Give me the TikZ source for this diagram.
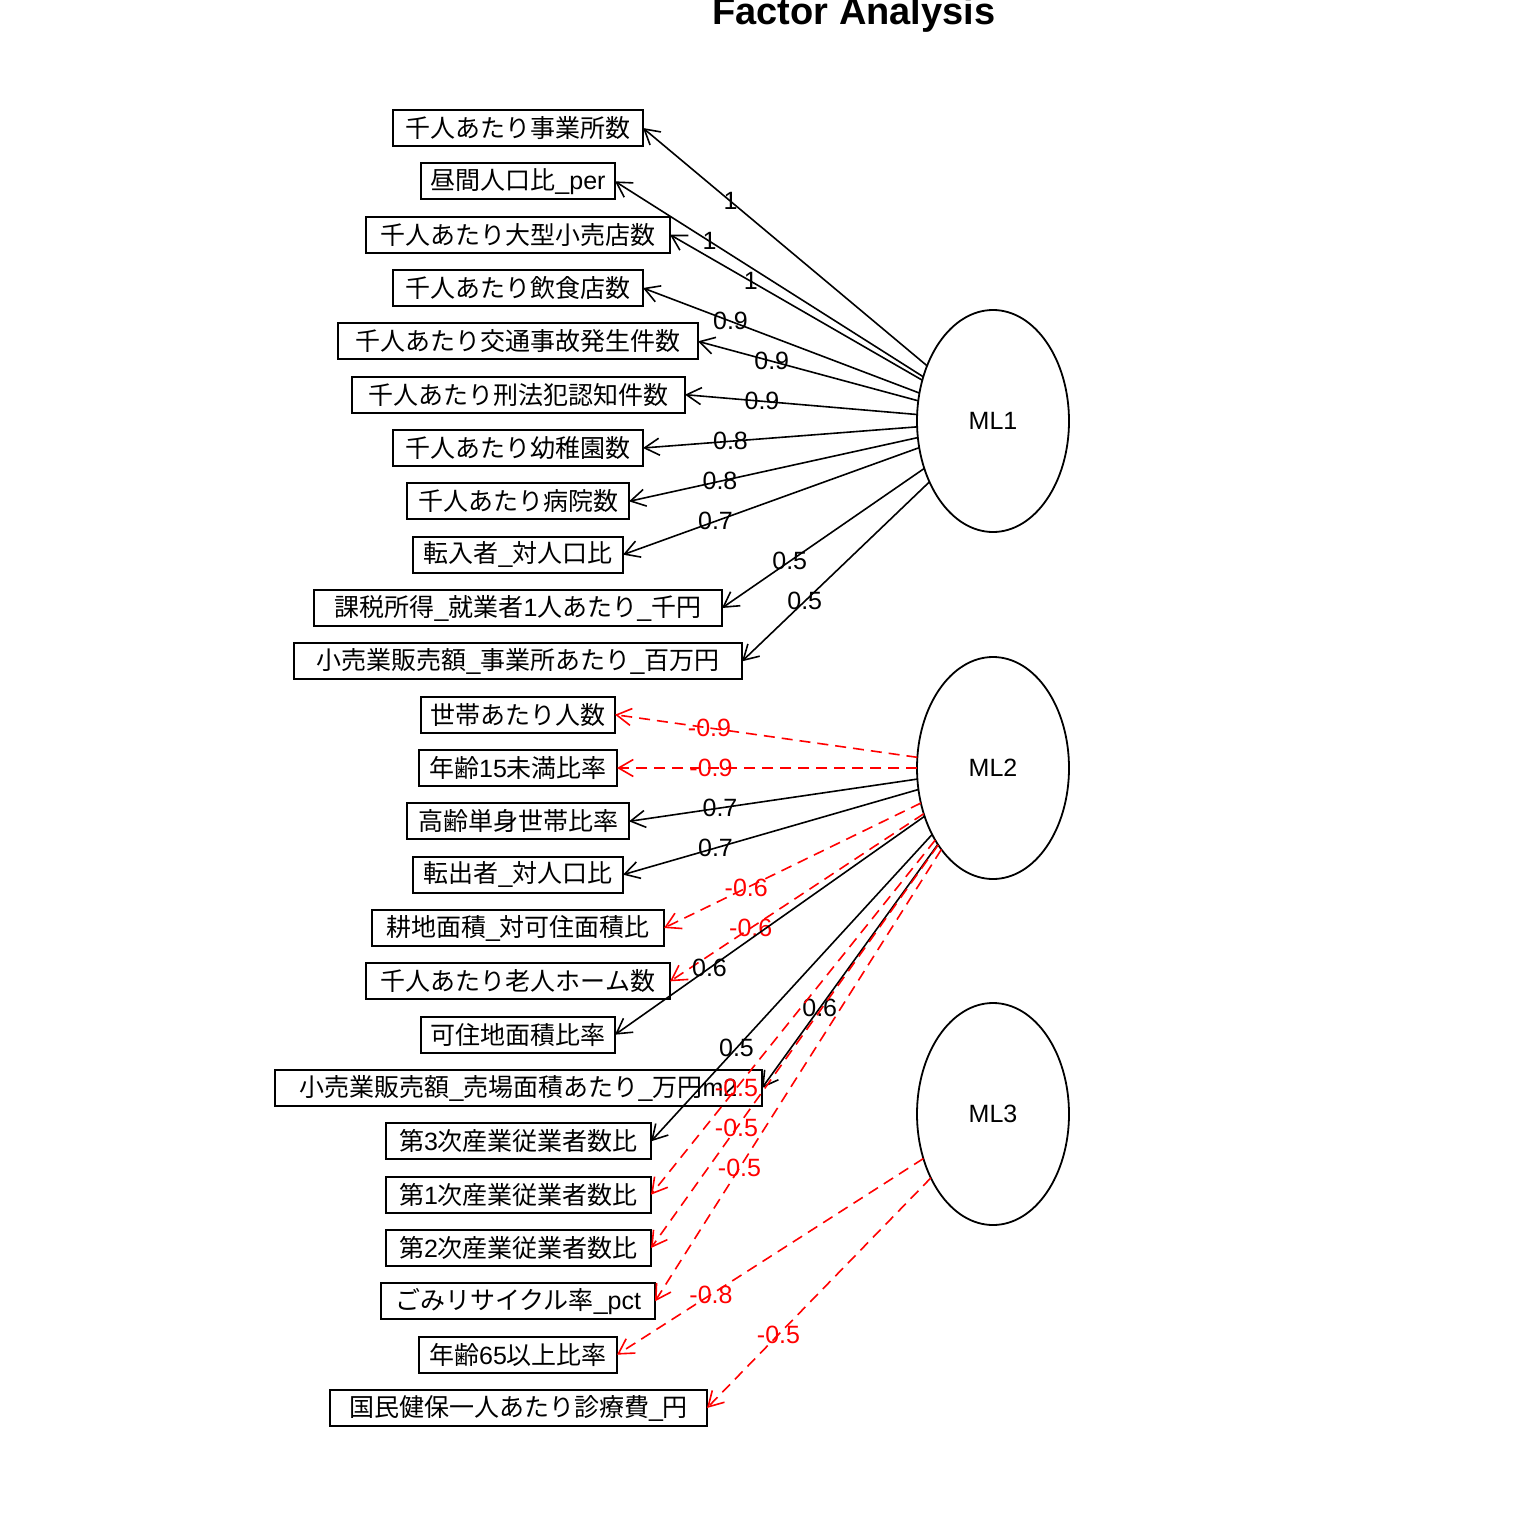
\documentclass[tikz,border=0pt]{standalone}
\usepackage{fontspec}
\setmainfont{Liberation Sans}
\newfontfamily\cjk{Noto Sans CJK JP}
\usetikzlibrary{shapes.geometric,arrows.meta,calc}
\begin{document}
\begin{tikzpicture}[x=0.5pt,y=-0.5pt,
  every node/.style={font=\fontsize{12.5}{15}\selectfont},
  varbox/.style={draw,line width=0.9pt,minimum height=18pt,inner xsep=2pt,inner ysep=0pt,outer sep=0pt},
  factor/.style={draw,ellipse,line width=0.9pt,minimum width=76pt,minimum height=111pt,inner sep=0pt,outer sep=0pt},
  posedge/.style={draw=black,line width=0.8pt,-{Straight Barb[angle=60:8.5pt]}},
  negedge/.style={draw=red,line width=0.8pt,dash pattern=on 5.5pt off 3.5pt,-{Straight Barb[angle=60:8.5pt]}},
  poslbl/.style={text=black,inner sep=0pt},
  neglbl/.style={text=red,inner sep=0pt}]
\useasboundingbox (0,0) rectangle (1536,1536);
\node[anchor=base,font=\bfseries\fontsize{19}{22}\selectfont] (title) at (854,25) {Factor Analysis};
% factors
\node[factor] (ML1) at (993,421) {ML1};
\node[factor] (ML2) at (993,768) {ML2};
\node[factor] (ML3) at (993,1114) {ML3};
% variables
\node[varbox,minimum width=125pt] (b1) at (518,128) {{\cjk 千人あたり事業所数}};
\node[varbox,minimum width=97pt] (b2) at (518,181.33) {{\cjk 昼間人口比}\_per};
\node[varbox,minimum width=152pt] (b3) at (518,234.67) {{\cjk 千人あたり大型小売店数}};
\node[varbox,minimum width=125pt] (b4) at (518,288) {{\cjk 千人あたり飲食店数}};
\node[varbox,minimum width=180pt] (b5) at (518,341.33) {{\cjk 千人あたり交通事故発生件数}};
\node[varbox,minimum width=166.5pt] (b6) at (518.5,394.67) {{\cjk 千人あたり刑法犯認知件数}};
\node[varbox,minimum width=125pt] (b7) at (518,448) {{\cjk 千人あたり幼稚園数}};
\node[varbox,minimum width=111pt] (b8) at (518,501.33) {{\cjk 千人あたり病院数}};
\node[varbox,minimum width=105pt] (b9) at (518,554.67) {{\cjk 転入者}\_{\cjk 対人口比}};
\node[varbox,minimum width=204pt] (b10) at (518,608) {{\cjk 課税所得}\_{\cjk 就業者}1{\cjk 人あたり}\_{\cjk 千円}};
\node[varbox,minimum width=224pt] (b11) at (518,661.33) {{\cjk 小売業販売額}\_{\cjk 事業所あたり}\_{\cjk 百万円}};
\node[varbox,minimum width=97pt] (b12) at (518,714.67) {{\cjk 世帯あたり人数}};
\node[varbox,minimum width=99pt] (b13) at (518,768) {{\cjk 年齢}15{\cjk 未満比率}};
\node[varbox,minimum width=111pt] (b14) at (518,821.33) {{\cjk 高齢単身世帯比率}};
\node[varbox,minimum width=105pt] (b15) at (518,874.67) {{\cjk 転出者}\_{\cjk 対人口比}};
\node[varbox,minimum width=146pt] (b16) at (518,928) {{\cjk 耕地面積}\_{\cjk 対可住面積比}};
\node[varbox,minimum width=152pt] (b17) at (518,981.33) {{\cjk 千人あたり老人ホーム数}};
\node[varbox,minimum width=97pt] (b18) at (518,1034.67) {{\cjk 可住地面積比率}};
\node[varbox,minimum width=243.5pt] (b19) at (518.5,1088) {{\cjk 小売業販売額}\_{\cjk 売場面積あたり}\_{\cjk 万円}m2};
\node[varbox,minimum width=132.5pt] (b20) at (518.5,1141.33) {{\cjk 第}3{\cjk 次産業従業者数比}};
\node[varbox,minimum width=132.5pt] (b21) at (518.5,1194.67) {{\cjk 第}1{\cjk 次産業従業者数比}};
\node[varbox,minimum width=132.5pt] (b22) at (518.5,1248) {{\cjk 第}2{\cjk 次産業従業者数比}};
\node[varbox,minimum width=137pt] (b23) at (518,1301.33) {{\cjk ごみリサイクル率}\_pct};
\node[varbox,minimum width=99pt] (b24) at (518,1354.67) {{\cjk 年齢}65{\cjk 以上比率}};
\node[varbox,minimum width=188.5pt] (b25) at (518.5,1408) {{\cjk 国民健保一人あたり診療費}\_{\cjk 円}};
% edges
\foreach \i/\f/\s/\v in {1/ML1/pos/1,2/ML1/pos/1,3/ML1/pos/1,4/ML1/pos/0.9,5/ML1/pos/0.9,6/ML1/pos/0.9,
  7/ML1/pos/0.8,8/ML1/pos/0.8,9/ML1/pos/0.7,10/ML1/pos/0.5,11/ML1/pos/0.5,
  12/ML2/neg/-0.9,13/ML2/neg/-0.9,14/ML2/pos/0.7,15/ML2/pos/0.7,16/ML2/neg/-0.6,17/ML2/neg/-0.6,
  18/ML2/pos/0.6,19/ML2/pos/0.6,20/ML2/pos/0.5,21/ML2/neg/-0.5,22/ML2/neg/-0.5,23/ML2/neg/-0.5,
  24/ML3/neg/-0.8,25/ML3/neg/-0.5}{
  \path[\s edge] (\f) -- (b\i.east);
  \node[\s lbl] (l\i) at ($(\f.center)!0.75!(b\i.east)$) {\v};
}
\end{tikzpicture}
\end{document}
